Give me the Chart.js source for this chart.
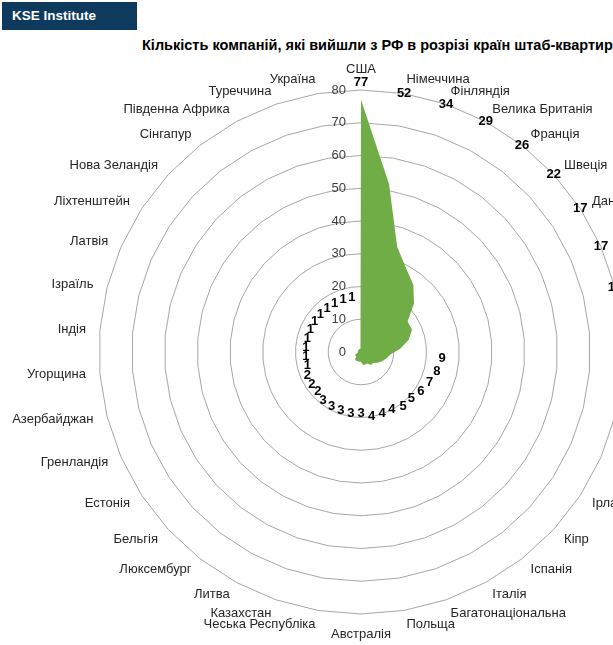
<!DOCTYPE html>
<html>
<head>
<meta charset="utf-8">
<script src="https://cdn.jsdelivr.net/npm/chart.js@4.4.1/dist/chart.umd.min.js"></script>
<style>
  body { margin: 0; width: 613px; height: 645px; overflow: hidden; position: relative; background: #fff; font-family: 'Liberation Sans', Arial, sans-serif; }
  #brand { position: absolute; left: 2px; top: 2px; width: 135px; height: 28px; background: #0e3a5d; color: #fff; font-weight: bold; font-size: 13.5px; line-height: 28px; padding-left: 10px; box-sizing: border-box; }
  #title { position: absolute; left: 142px; top: 37px; font-weight: bold; font-size: 14.5px; color: #000; white-space: nowrap; }
  #radar { position: absolute; left: 0; top: 0; }
</style>
</head>
<body>
<div id="brand">KSE Institute</div>
<div id="title">Кількість компаній, які вийшли з РФ в розрізі країн штаб-квартир</div>
<canvas id="radar" width="800" height="645"></canvas>
<script>
// countries, clockwise from the top
const countries = [
  'США', 'Німеччина', 'Фінляндія', 'Велика Британія', 'Франція', 'Швеція', 'Данія',
  'Нідерланди', 'Швейцарія', 'Японія', 'Норвегія', 'Канада', 'Австрія',
  'Ірландія', 'Кіпр', 'Іспанія', 'Італія', 'Багатонаціональна', 'Польща', 'Австралія',
  'Чеська Республіка', 'Казахстан', 'Литва', 'Люксембург', 'Бельгія', 'Естонія',
  'Гренландія', 'Азербайджан', 'Угорщина', 'Індія', 'Ізраїль', 'Латвія', 'Ліхтенштейн',
  'Нова Зеландія', 'Сінгапур', 'Південна Африка', 'Туреччина', 'Україна'
]
const companies = [
  77, 52, 34, 29, 26, 22, 17,
  17, 15, 12, 9, 8, 7,
  6, 5, 5, 4, 4, 4, 3,
  3, 3, 3, 3, 2, 2,
  2, 1, 1, 1, 1, 1, 1,
  1, 1, 1, 1, 1
]
const tickValues = [0, 10, 20, 30, 40, 50, 60, 70, 80]

const labelPlugin = {
  id: 'labels',
  afterDatasetsDraw (chart) {
    const ctx = chart.ctx
    const scale = chart.scales.r
    const R = scale.drawingArea
    ctx.save()

    // axis values, left of the vertical axis
    ctx.font = '13px "Liberation Sans", Arial, sans-serif'
    ctx.fillStyle = '#404040'
    ctx.textAlign = 'right'
    ctx.textBaseline = 'middle'
    tickValues.forEach(v => {
      const d = scale.getDistanceFromCenterForValue(v)
      ctx.fillText(String(v), scale.xCenter - 15, scale.yCenter - d)
    })

    // country names
    ctx.fillStyle = '#262626'
    countries.forEach((name, i) => {
      const p = scale.getPointPosition(i, R + 14)
      const a = p.angle + Math.PI / 2
      const s = Math.sin(a)
      const c = Math.cos(a)
      if (Math.abs(s) < 0.05) {
        ctx.textAlign = 'center'
        ctx.textBaseline = c > 0 ? 'bottom' : 'top'
      } else {
        ctx.textAlign = s > 0 ? 'left' : 'right'
        ctx.textBaseline = 'middle'
      }
      ctx.fillText(name, p.x, p.y)
    })

    // value labels
    ctx.font = 'bold 13px "Liberation Sans", Arial, sans-serif'
    ctx.fillStyle = '#000'
    ctx.textAlign = 'center'
    ctx.textBaseline = 'middle'
    companies.forEach((v, i) => {
      const d = scale.getDistanceFromCenterForValue(v)
      const r = v < 10 ? d + 52 : Math.max(d + 17, R)
      const p = scale.getPointPosition(i, r)
      ctx.fillText(String(v), p.x, p.y)
    })
    ctx.restore()
  }
}

new Chart(document.getElementById('radar').getContext('2d'), {
  type: 'radar',
  data: {
    labels: countries,
    datasets: [
      {
        label: 'Компанії',
        data: companies,
        fill: true,
        backgroundColor: '#70ad47',
        borderWidth: 0,
        pointRadius: 0
      }
    ]
  },
  options: {
    responsive: false,
    animation: false,
    layout: {
      padding: { left: 99, right: 177, top: 90, bottom: 31 }
    },
    plugins: {
      legend: { display: false },
      tooltip: { enabled: false }
    },
    scales: {
      r: {
        min: 0,
        max: 80,
        ticks: { stepSize: 10, display: false },
        grid: { circular: false, color: '#a6a6a6', lineWidth: 1 },
        angleLines: { display: false },
        pointLabels: { display: false }
      }
    }
  },
  plugins: [labelPlugin]
})
</script>
</body>
</html>
